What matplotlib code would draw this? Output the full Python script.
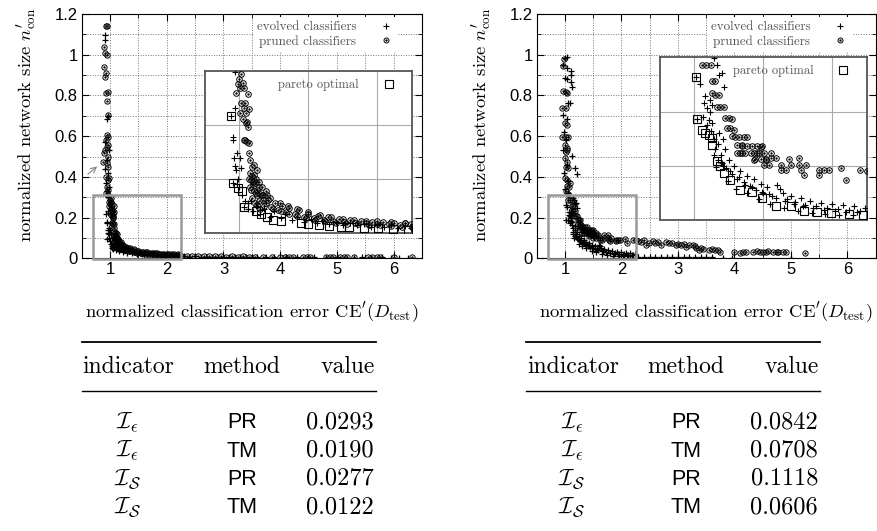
import matplotlib
matplotlib.use('Agg')
import matplotlib.pyplot as plt
from matplotlib.lines import Line2D
from matplotlib.patches import Rectangle
from matplotlib.ticker import MultipleLocator, FuncFormatter

plt.rcParams['font.family'] = 'Liberation Sans'
plt.rcParams['mathtext.fontset'] = 'cm'
plt.rcParams['axes.unicode_minus'] = False
SERIF = 'cmr10'
SANS = 'Liberation Sans'

# ---------------- left panel data ----------------
left_evolved_x = [0.912, 0.912, 0.959, 0.947, 0.912, 0.983, 0.941, 0.912, 0.971, 0.924, 0.983, 0.950, 0.930,
                  0.969, 0.937, 0.969, 0.952, 0.952, 0.981, 0.957, 1.005, 0.969, 1.010, 0.976, 0.950, 0.990,
                  1.000, 1.020, 1.030, 1.040, 1.060,
                  1.06, 1.08, 1.10, 1.12, 1.15, 1.18, 1.22, 1.25, 1.30, 1.33, 1.38, 1.42, 1.47, 1.52, 1.56,
                  1.60, 1.65, 1.70, 1.75, 1.80, 1.85, 1.90, 1.95, 2.00, 2.05, 2.10, 2.15, 2.20, 2.24,
                  2.30, 2.40, 2.50, 2.60, 2.70, 2.80, 2.90, 3.00, 3.10, 3.20, 3.30, 3.40, 3.50, 3.60, 3.75,
                  3.90, 4.10, 4.30, 4.60, 4.80, 5.00, 5.30, 5.45, 5.60, 5.80, 5.95, 6.10, 6.25]
left_evolved_y = [1.097, 1.072, 0.699, 0.683, 0.573, 0.532, 0.483, 0.437, 0.418, 0.368, 0.352, 0.330, 0.310,
                  0.299, 0.217, 0.231, 0.178, 0.172, 0.148, 0.138, 0.138, 0.124, 0.120, 0.117, 0.093, 0.100,
                  0.085, 0.070, 0.049, 0.060, 0.055,
                  0.045, 0.060, 0.040, 0.050, 0.035, 0.045, 0.030, 0.040, 0.028, 0.036, 0.024, 0.030, 0.021,
                  0.026, 0.019, 0.023, 0.017, 0.020, 0.015, 0.018, 0.014, 0.017, 0.012, 0.015, 0.011, 0.014,
                  0.010, 0.013, 0.009,
                  0.009, 0.008, 0.009, 0.007, 0.008, 0.007, 0.008, 0.006, 0.007, 0.006, 0.007, 0.005, 0.006,
                  0.005, 0.006, 0.004, 0.005, 0.004, 0.005, 0.003, 0.004, 0.003, 0.004, 0.003, 0.004, 0.003,
                  0.003, 0.002]

left_pruned_x = [0.930, 0.955, 0.900, 0.912, 0.941, 0.900, 0.924, 0.912, 0.959, 0.930, 0.941, 0.959,
                 0.941, 0.971, 0.924, 0.959, 0.941, 0.900, 0.971, 0.941, 0.959, 0.883, 0.924, 0.959, 0.941,
                 0.971, 0.930, 0.960, 0.985, 0.912,
                 1.010, 1.000, 0.986, 1.025, 1.006, 0.976, 1.035, 1.061, 1.010, 1.042, 1.030, 1.066, 1.005,
                 1.049, 1.025, 1.054, 1.059, 1.049, 1.030, 1.042, 1.054, 1.066, 1.066, 1.078, 1.091, 1.103,
                 1.074, 1.108, 1.127, 1.083, 1.115, 1.139, 1.103, 1.127, 1.151, 1.074,
                 1.09, 1.10, 1.12, 1.13, 1.14, 1.16, 1.17, 1.19, 1.20,
                 1.07, 1.08, 1.09, 1.10, 1.11, 1.12, 1.14, 1.15, 1.17, 1.19, 1.21, 1.23, 1.26, 1.28, 1.31,
                 1.34, 1.36, 1.40, 1.43, 1.47, 1.50, 1.54, 1.57, 1.61, 1.64, 1.68, 1.72, 1.76, 1.80, 1.84,
                 1.88, 1.92, 1.96, 2.00, 2.04, 2.08, 2.12, 2.16, 2.20, 2.24,
                 1.13, 1.18, 1.24, 1.30, 1.36, 1.42, 1.48, 1.55, 1.62, 1.70, 1.78, 1.86, 1.94, 2.02, 2.10,
                 2.18,
                 1.16, 1.22, 1.29, 1.35, 1.42, 1.50, 1.58, 1.66, 1.75, 1.83, 1.92, 2.00, 2.10, 2.20,
                 2.25, 2.35, 2.45, 2.55, 2.65, 2.75, 2.85, 2.95, 3.05, 3.15, 3.25, 3.35, 3.45, 3.55, 3.70,
                 3.85, 4.00, 4.08, 4.16, 4.23, 4.40, 4.48, 4.53, 4.80, 4.88, 4.94, 5.05, 5.12, 5.18, 5.30,
                 5.55, 5.62, 5.70, 5.76, 6.00, 6.33]
left_pruned_y = [1.140, 1.140, 1.040, 1.010, 0.999, 0.938, 0.912, 0.892, 0.819, 0.810, 0.774, 0.705,
                 0.606, 0.598, 0.581, 0.557, 0.548, 0.516, 0.499, 0.467, 0.450, 0.475, 0.401, 0.385, 0.352,
                 0.337, 0.320, 0.310, 0.395, 0.530,
                 0.294, 0.285, 0.276, 0.278, 0.268, 0.259, 0.268, 0.257, 0.240, 0.240, 0.231, 0.229, 0.222,
                 0.222, 0.212, 0.206, 0.197, 0.203, 0.173, 0.172, 0.169, 0.167, 0.149, 0.135, 0.123, 0.126,
                 0.111, 0.108, 0.117, 0.098, 0.092, 0.086, 0.077, 0.070, 0.073, 0.086,
                 0.105, 0.095, 0.100, 0.080, 0.095, 0.085, 0.062, 0.078, 0.070,
                 0.100, 0.080, 0.065, 0.090, 0.055, 0.075, 0.060, 0.045, 0.070, 0.055, 0.062, 0.048, 0.056,
                 0.042, 0.050, 0.038, 0.046, 0.035, 0.042, 0.030, 0.036, 0.027, 0.032, 0.025, 0.029, 0.022,
                 0.026, 0.020, 0.024, 0.019, 0.022, 0.018, 0.021, 0.017, 0.020, 0.016, 0.019, 0.015, 0.018,
                 0.016,
                 0.052, 0.050, 0.045, 0.040, 0.036, 0.032, 0.028, 0.025, 0.022, 0.019, 0.017, 0.016, 0.015,
                 0.014, 0.013, 0.012,
                 0.070, 0.064, 0.056, 0.050, 0.044, 0.038, 0.033, 0.029, 0.026, 0.024, 0.023, 0.022, 0.021,
                 0.019,
                 0.012, 0.011, 0.010, 0.011, 0.009, 0.010, 0.009, 0.010, 0.008, 0.009, 0.008, 0.009, 0.008,
                 0.008, 0.007, 0.008, 0.008, 0.007, 0.008, 0.007, 0.007, 0.008, 0.007, 0.007, 0.006, 0.007,
                 0.006, 0.007, 0.006, 0.006, 0.006, 0.006, 0.006, 0.005, 0.006, 0.006]

left_pareto_x = [0.937, 0.950, 0.988, 1.018, 1.030, 1.117, 1.159, 1.200, 1.244, 1.300, 1.443, 1.500,
                 1.577, 1.650, 1.735, 1.796, 1.900, 2.003, 2.113, 2.222]
left_pareto_y = [0.217, 0.093, 0.083, 0.078, 0.049, 0.041, 0.035, 0.030, 0.025, 0.022, 0.018, 0.017,
                 0.015, 0.013, 0.012, 0.0105, 0.0095, 0.0087, 0.0068, 0.0056]

# ---------------- right panel data ----------------
right_evolved_x = [0.994, 1.041, 0.970, 1.030, 1.100, 1.112, 0.994, 1.041, 1.112, 1.130, 1.053, 1.089,
                   0.970, 1.030, 1.130, 1.172, 1.219, 0.980, 1.010, 0.970, 1.030, 0.990, 1.050, 1.000, 1.060,
                   1.144, 1.164, 1.013, 1.037, 1.176, 1.200, 1.217, 1.078, 1.110, 1.066, 1.127, 1.091, 1.110,
                   1.018, 1.103, 1.127,
                   1.06, 1.09, 1.12, 1.14, 1.15, 1.17, 1.19, 1.20, 1.22, 1.23, 1.25, 1.27, 1.29, 1.31, 1.33,
                   1.36, 1.38, 1.40, 1.43, 1.45, 1.48, 1.50, 1.53, 1.56, 1.60, 1.62, 1.64, 1.67, 1.70, 1.73,
                   1.77, 1.80, 1.84, 1.88, 1.92, 1.96, 2.00, 2.04, 2.08, 2.12, 2.16, 2.20, 2.24,
                   1.16, 1.24, 1.30, 1.38, 1.47, 1.55, 1.65, 1.75, 1.85, 1.95, 2.05, 2.15,
                   1.21, 1.26, 1.32, 1.37, 1.42, 1.49, 1.54, 1.59, 1.66, 1.72, 1.79, 1.86, 1.94, 2.02, 2.10,
                   2.18, 1.14, 1.17, 1.18, 1.21,
                   2.30, 2.40, 2.50, 2.60, 2.70, 2.80, 2.90, 3.00, 3.10, 3.20, 3.30, 3.40, 3.50, 3.60, 3.80,
                   3.95, 5.00]
right_evolved_y = [0.982, 0.987, 0.949, 0.933, 0.921, 0.900, 0.884, 0.879, 0.867, 0.843, 0.764, 0.764,
                   0.704, 0.682, 0.502, 0.446, 0.414, 0.620, 0.580, 0.530, 0.460, 0.420, 0.380, 0.340, 0.320,
                   0.298, 0.286, 0.263, 0.250, 0.268, 0.271, 0.246, 0.228, 0.221, 0.215, 0.212, 0.206, 0.200,
                   0.186, 0.185, 0.178,
                   0.190, 0.175, 0.165, 0.150, 0.130, 0.140, 0.120, 0.105, 0.130, 0.095, 0.110, 0.085, 0.100,
                   0.075, 0.090, 0.070, 0.082, 0.062, 0.075, 0.055, 0.066, 0.050, 0.060, 0.045, 0.065, 0.058,
                   0.050, 0.038, 0.045, 0.033, 0.040, 0.028, 0.035, 0.025, 0.032, 0.022, 0.030, 0.020, 0.028,
                   0.018, 0.025, 0.016, 0.022,
                   0.098, 0.072, 0.058, 0.050, 0.038, 0.030, 0.022, 0.017, 0.013, 0.011, 0.010, 0.009,
                   0.100, 0.090, 0.080, 0.065, 0.060, 0.052, 0.048, 0.040, 0.035, 0.030, 0.026, 0.022, 0.019,
                   0.017, 0.015, 0.014, 0.120, 0.110, 0.160, 0.150,
                   0.008, 0.007, 0.008, 0.006, 0.007, 0.006, 0.006, 0.005, 0.006, 0.005, 0.005, 0.004, 0.005,
                   0.004, 0.003, 0.003, 0.001]

right_pruned_x = [0.990, 0.970, 1.012, 1.030, 0.960, 0.953, 1.012, 0.994, 1.030, 0.953, 1.012, 1.053,
                  0.994, 1.030, 1.012, 1.041, 0.994, 1.041, 1.012, 1.053, 0.994, 1.041, 1.089, 1.030, 1.071,
                  1.010, 1.050,
                  1.054, 1.086, 1.120, 1.127, 1.151, 1.127, 1.151, 1.176, 1.164, 1.188, 1.212, 1.224, 1.249,
                  1.273, 1.237, 1.261, 1.285, 1.273, 1.297, 1.322, 1.358, 1.383, 1.310, 1.346, 1.370, 1.407,
                  1.456, 1.334, 1.480, 1.516, 1.553, 1.589, 1.431, 1.504, 1.541,
                  1.346, 1.383, 1.419, 1.456, 1.492, 1.310, 1.346, 1.431, 1.468, 1.504, 1.553, 1.443, 1.480,
                  1.516, 1.687, 1.760,
                  1.626, 1.626, 1.662, 1.699, 1.760, 1.772, 1.796, 1.809, 1.906, 1.906, 1.942, 1.979, 2.064,
                  2.101, 2.198,
                  2.25, 2.30, 2.40, 2.55, 2.60, 2.78, 2.90, 3.00, 3.10, 3.30, 3.40, 3.45, 3.60, 4.00, 4.15,
                  4.40, 4.50, 4.60, 4.75,
                  2.344, 2.433, 2.492, 2.641, 2.700, 2.848, 2.966, 3.055, 3.144, 3.203, 3.262, 3.321, 3.381,
                  3.558, 3.647, 3.706, 3.736, 4.091, 4.209, 4.328, 4.446, 4.565, 4.683, 4.772, 4.861, 4.920,
                  5.246]
right_pruned_y = [0.980, 0.945, 0.818, 0.810, 0.823, 0.736, 0.736, 0.663, 0.654, 0.597, 0.597, 0.597,
                  0.556, 0.540, 0.523, 0.532, 0.491, 0.474, 0.450, 0.442, 0.392, 0.384, 0.368, 0.355, 0.348,
                  0.330, 0.315,
                  0.286, 0.286, 0.286, 0.257, 0.257, 0.235, 0.231, 0.231, 0.209, 0.209, 0.209, 0.188, 0.188,
                  0.186, 0.169, 0.169, 0.166, 0.154, 0.153, 0.153, 0.153, 0.153, 0.138, 0.138, 0.123, 0.123,
                  0.123, 0.123, 0.135, 0.111, 0.114, 0.114, 0.111, 0.102, 0.102,
                  0.137, 0.137, 0.137, 0.137, 0.137, 0.124, 0.124, 0.124, 0.124, 0.124, 0.124, 0.112, 0.112,
                  0.112, 0.112, 0.114,
                  0.102, 0.092, 0.092, 0.102, 0.102, 0.092, 0.083, 0.102, 0.092, 0.083, 0.092, 0.092, 0.095,
                  0.074, 0.092,
                  0.090, 0.085, 0.090, 0.085, 0.075, 0.080, 0.075, 0.070, 0.072, 0.060, 0.050, 0.045, 0.045,
                  0.030, 0.030, 0.035, 0.030, 0.035, 0.030,
                  0.082, 0.065, 0.077, 0.082, 0.065, 0.074, 0.065, 0.065, 0.057, 0.065, 0.065, 0.049, 0.041,
                  0.041, 0.041, 0.041, 0.033, 0.025, 0.033, 0.033, 0.033, 0.033, 0.033, 0.033, 0.033, 0.033,
                  0.025]

right_pareto_x = [1.013, 1.018, 1.054, 1.078, 1.103, 1.127, 1.127, 1.164, 1.183, 1.212, 1.261, 1.334,
                  1.419, 1.492, 1.589, 1.699, 1.796, 1.889, 1.991, 2.124, 2.222]
right_pareto_y = [0.263, 0.186, 0.166, 0.160, 0.157, 0.151, 0.138, 0.108, 0.099, 0.086, 0.074, 0.055,
                  0.052, 0.040, 0.026, 0.025, 0.017, 0.014, 0.012, 0.011, 0.009]

# ---------------- tables ----------------
table_header = ['indicator', 'method', 'value']
indicators = [r'$\mathcal{I}_{\epsilon}$', r'$\mathcal{I}_{\epsilon}$',
              r'$\mathcal{I}_{\mathcal{S}}$', r'$\mathcal{I}_{\mathcal{S}}$']
methods = ['PR', 'TM', 'PR', 'TM']
left_values = ['0.0293', '0.0190', '0.0277', '0.0122']
right_values = ['0.0842', '0.0708', '0.1118', '0.0606']

W, H = 878, 531


def fx(px):
    return px / W


def fy(py):
    return 1 - py / H


fig = plt.figure(figsize=(8.78, 5.31), dpi=100)


def plot_pruned(ax, x, y, ms):
    ax.plot(x, y, 'o', ls='none', ms=ms, mfc='none', mec='black', mew=0.7, zorder=3)
    ax.plot(x, y, '.', ls='none', ms=1.4, color='black', zorder=3)


def draw_panel(x0, x1, inset_px, table_x, ev_x, ev_y, pr_x, pr_y, pa_x, pa_y, values, arrow=False):
    top, bot = 14.0, 258.3
    ax = fig.add_axes([fx(x0), fy(bot), (x1 - x0) / W, (bot - top) / H])
    ax.set_xlim(0.5, 6.5)
    ax.set_ylim(0, 1.2)
    ax.xaxis.set_major_locator(MultipleLocator(1))
    ax.xaxis.set_minor_locator(MultipleLocator(0.5))
    ax.yaxis.set_major_locator(MultipleLocator(0.2))
    ax.yaxis.set_minor_locator(MultipleLocator(0.1))
    ax.yaxis.set_major_formatter(FuncFormatter(lambda v, p: f'{v:g}'))
    ax.grid(which='both', ls=(0, (1, 1.6)), color='#777777', lw=0.7)
    ax.set_axisbelow(True)
    ax.tick_params(which='both', direction='in', top=True, right=True, labelsize=12, pad=3)
    ax.tick_params(which='major', length=5)
    ax.tick_params(which='minor', length=3)

    ax.plot(ev_x, ev_y, '+', ls='none', color='black', ms=4.8, mew=0.9, zorder=3)
    plot_pruned(ax, pr_x, pr_y, 3.8)

    ax.add_patch(Rectangle((0.7, -0.004), 1.55, 0.317, fill=False, ec='#999999', lw=1.8,
                           clip_on=False, zorder=4))
    if arrow:
        ax.annotate('', xy=(0.81, 0.46), xytext=(0.57, 0.404),
                    arrowprops=dict(arrowstyle='->', color='#888888', lw=0.8))

    h_ev = Line2D([], [], marker='+', ls='none', color='black', ms=4.5, mew=0.8)
    h_pr = (Line2D([], [], marker='o', ls='none', mfc='none', mec='black', ms=3.6, mew=0.7),
            Line2D([], [], marker='.', ls='none', color='black', ms=1.4))
    ax.legend([h_ev, h_pr], ['evolved classifiers', 'pruned classifiers'], loc='upper right',
              bbox_to_anchor=(0.93, 0.986), markerfirst=False, frameon=True, fancybox=False,
              edgecolor='none', facecolor='white', framealpha=1,
              prop={'family': SERIF, 'size': 9.4}, labelcolor='#555555',
              handlelength=1.2, handletextpad=1.7, labelspacing=0.12, borderpad=0.3, borderaxespad=0)

    ax.set_ylabel(r"normalized network size $n^{\prime}_{\mathrm{con}}$", fontfamily=SERIF,
                  fontsize=13.4)
    ax.yaxis.set_label_coords(-0.125, 0.545)
    ax.set_xlabel(r"normalized classification error $\mathrm{CE}^{\prime}(D_{\mathrm{test}})$",
                  fontfamily=SERIF, fontsize=13.4)
    ax.xaxis.set_label_coords(0.5, -0.175)

    # inset (zoom of the grey rectangle)
    ix0, iy0, ix1, iy1 = inset_px
    axi = fig.add_axes([fx(ix0), fy(iy1), (ix1 - ix0) / W, (iy1 - iy0) / H])
    axi.set_facecolor('white')
    axi.set_xlim(0.75, 2.25)
    axi.set_ylim(0, 0.3)
    axi.set_xticks([1.0, 1.5, 2.0])
    axi.set_yticks([0.1, 0.2])
    axi.tick_params(length=0, labelbottom=False, labelleft=False)
    axi.grid(color='#aaaaaa', lw=0.8, ls='-')
    axi.set_axisbelow(True)
    for s in axi.spines.values():
        s.set_color('#555555')
        s.set_linewidth(1.3)
    axi.plot(ev_x, ev_y, '+', ls='none', color='black', ms=5, mew=0.8, zorder=3)
    plot_pruned(axi, pr_x, pr_y, 4.0)
    axi.plot(pa_x, pa_y, 's', ls='none', ms=5.8, mfc='none', mec='black', mew=0.8, zorder=4)
    h_pa = Line2D([], [], marker='s', ls='none', ms=5.8, mfc='none', mec='black', mew=0.8)
    axi.legend([h_pa], ['pareto optimal'], loc='upper right', bbox_to_anchor=(0.935, 0.975),
               markerfirst=False, frameon=False, prop={'family': SERIF, 'size': 9},
               labelcolor='#555555', handlelength=1.0, handletextpad=1.9, borderpad=0.3,
               borderaxespad=0)

    # table below the panel
    r0 = table_x
    fig.add_artist(Line2D([fx(r0), fx(r0 + 294.5)], [fy(341.7), fy(341.7)], color='black', lw=1.3))
    fig.add_artist(Line2D([fx(r0), fx(r0 + 294.5)], [fy(390.7), fy(390.7)], color='black', lw=1.0))
    fig.text(fx(r0 + 1), fy(372.7), table_header[0], ha='left', va='baseline', family=SERIF,
             fontsize=17)
    fig.text(fx(r0 + 160), fy(372.7), table_header[1], ha='center', va='baseline', family=SERIF,
             fontsize=17)
    fig.text(fx(r0 + 293), fy(372.7), table_header[2], ha='right', va='baseline', family=SERIF,
             fontsize=17)
    for i in range(len(methods)):
        base = 428.3 + 28.3 * i
        fig.text(fx(r0 + 46), fy(base), indicators[i], ha='center', va='baseline', fontsize=17)
        fig.text(fx(r0 + 160), fy(base), methods[i], ha='center', va='baseline', family=SANS,
                 fontsize=15.5)
        fig.text(fx(r0 + 292), fy(base), values[i], ha='right', va='baseline', family=SERIF,
                 fontsize=17.5)


draw_panel(81.7, 421.9, (205, 71, 412, 233), 81.7, left_evolved_x, left_evolved_y, left_pruned_x,
           left_pruned_y, left_pareto_x, left_pareto_y, left_values, arrow=True)
draw_panel(536.7, 875.7, (660, 57.3, 866.7, 220), 526.0, right_evolved_x, right_evolved_y,
           right_pruned_x, right_pruned_y, right_pareto_x, right_pareto_y, right_values)

fig.savefig('out.png', dpi=100)
